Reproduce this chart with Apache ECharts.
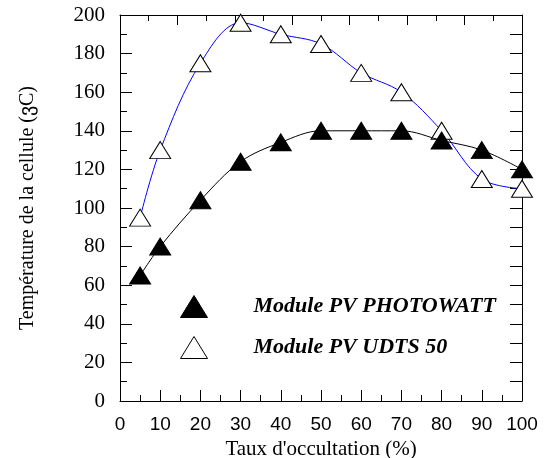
<!DOCTYPE html>
<html>
<head>
<meta charset="utf-8">
<script src="https://cdn.jsdelivr.net/npm/echarts@6/dist/echarts.min.js"></script>
<style>html,body{margin:0;padding:0;background:#fff}#c{width:544px;height:458px}</style>
</head>
<body>
<div id="c"></div>
<script>
const occultation = [5, 10, 20, 30, 40, 50, 60, 70, 80, 90, 100];
const photowatt = [65, 80, 104, 124, 134, 140, 140, 140, 135, 130, 120];
const udts50 = [95, 130, 175, 196, 190, 185, 170, 160, 140, 115, 110];
const seriesNames = ['Module PV PHOTOWATT', 'Module PV UDTS 50'];
const xTitle = "Taux d'occultation (%)";
const yTitle = 'Température de la cellule (ვC)';

const chart = echarts.init(document.getElementById('c'), null, {renderer: 'canvas'});
const pair = (xs, ys) => xs.map((x, i) => [x, ys[i]]);
const serif = 'Liberation Serif, Times New Roman, serif';
const sans = 'Liberation Sans, Arial, sans-serif';
const axisLine = {show: true, onZero: false, lineStyle: {color: '#000', width: 1}};

chart.setOption({
  animation: false,
  grid: {left: 120, right: 22, top: 15, bottom: 57, containLabel: false, outerBoundsMode: 'none'},
  legend: {
    orient: 'vertical', left: 175, top: 290, itemWidth: 27, itemHeight: 22, itemGap: 18,
    icon: 'triangle',
    textStyle: {fontFamily: serif, fontWeight: 'bold', fontStyle: 'italic', fontSize: 22, color: '#000', padding: [0, 0, 0, 41]},
    data: [
      {name: seriesNames[0], itemStyle: {color: '#000', borderColor: '#000', borderWidth: 1}},
      {name: seriesNames[1], itemStyle: {color: '#fff', borderColor: '#000', borderWidth: 1}}
    ]
  },
  xAxis: [
    {type: 'value', min: 0, max: 100, interval: 10, position: 'bottom',
     axisLine: axisLine,
     axisTick: {show: true, inside: true, length: 11, lineStyle: {color: '#000'}},
     minorTick: {show: true, splitNumber: 2, length: 6, lineStyle: {color: '#000'}},
     splitLine: {show: false},
     axisLabel: {fontFamily: sans, fontSize: 19, color: '#000', margin: 14},
     name: xTitle, nameLocation: 'middle', nameGap: 37,
     nameTextStyle: {fontFamily: serif, fontSize: 21, color: '#000'}},
    {type: 'value', min: 0, max: 7, interval: 1, position: 'top',
     axisLine: axisLine,
     axisTick: {show: true, inside: true, length: 10, lineStyle: {color: '#000'}},
     minorTick: {show: true, splitNumber: 2, length: 6, lineStyle: {color: '#000'}},
     splitLine: {show: false}, axisLabel: {show: false}}
  ],
  yAxis: [
    {type: 'value', min: 0, max: 200, interval: 20, position: 'left',
     axisLine: axisLine,
     axisTick: {show: true, inside: true, length: 12, lineStyle: {color: '#000'}},
     minorTick: {show: true, splitNumber: 2, length: 7, lineStyle: {color: '#000'}},
     splitLine: {show: false},
     axisLabel: {fontFamily: serif, fontSize: 21, color: '#000', margin: 15},
     name: yTitle, nameLocation: 'middle', nameGap: 82, nameRotate: 90,
     nameTextStyle: {fontFamily: serif, fontSize: 20, color: '#000'}},
    {type: 'value', min: 0, max: 20, interval: 1, position: 'right',
     axisLine: axisLine,
     axisTick: {show: true, inside: true, length: 12, lineStyle: {color: '#000'}},
     splitLine: {show: false}, axisLabel: {show: false}}
  ],
  series: [
    {name: seriesNames[1], type: 'line', smooth: 0.35, data: pair(occultation, udts50),
     symbol: 'triangle', symbolSize: [21, 17],
     lineStyle: {color: '#0000ff', width: 1},
     itemStyle: {color: '#fff', borderColor: '#000', borderWidth: 1}, z: 2},
    {name: seriesNames[0], type: 'line', smooth: 0.35, data: pair(occultation, photowatt),
     symbol: 'triangle', symbolSize: [21, 17],
     lineStyle: {color: '#000', width: 1},
     itemStyle: {color: '#000', borderColor: '#000', borderWidth: 1}, z: 3}
  ]
});
</script>
</body>
</html>
